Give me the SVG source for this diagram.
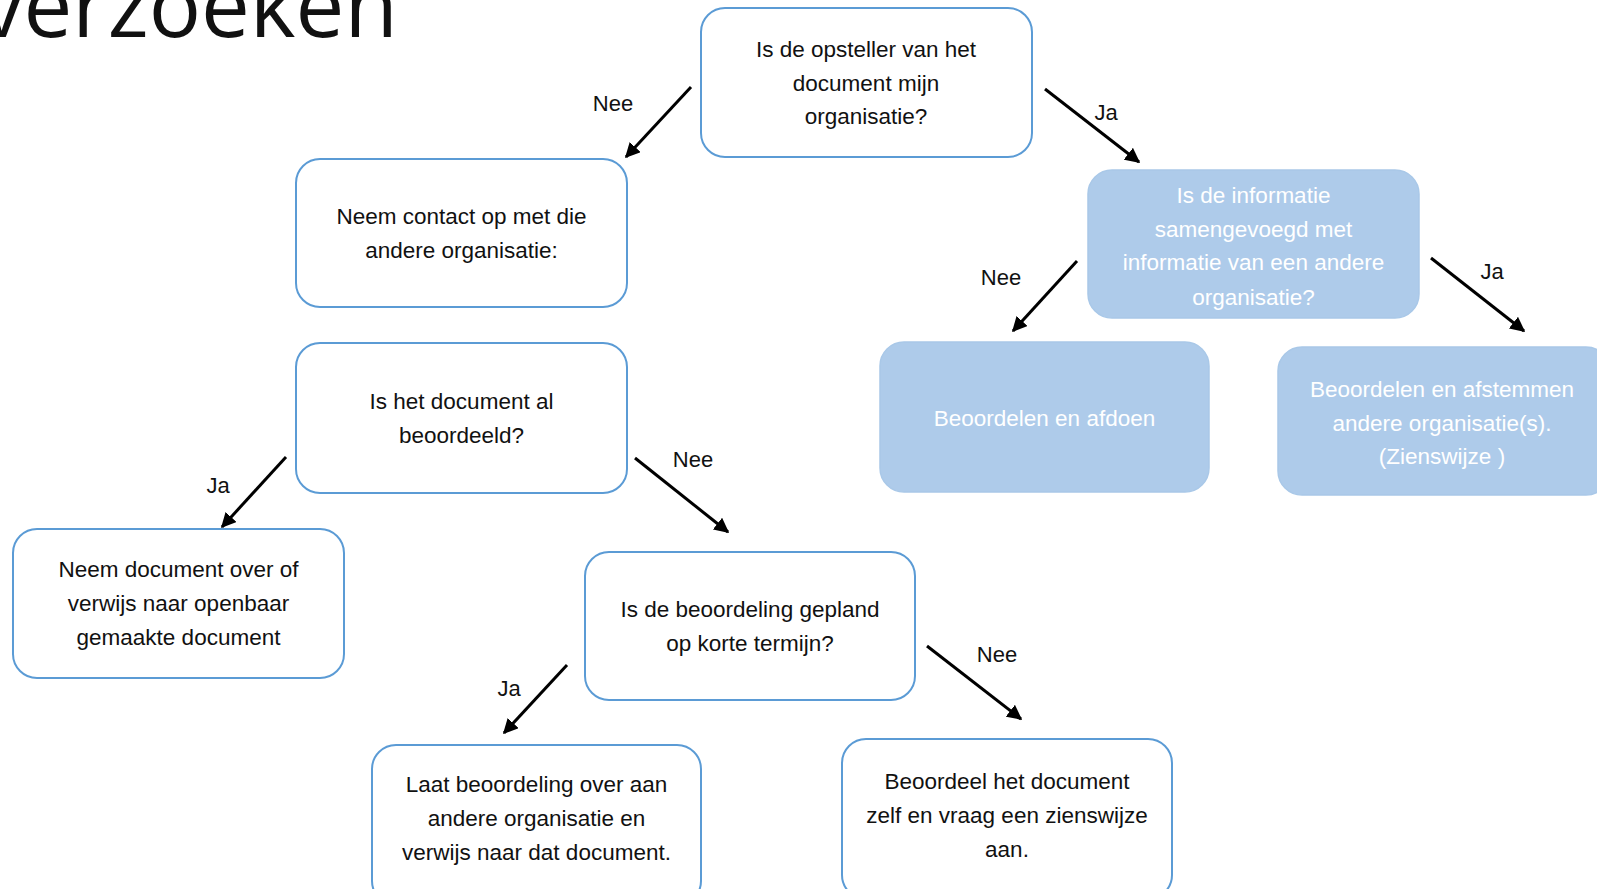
<svg xmlns="http://www.w3.org/2000/svg" width="1597" height="889" viewBox="0 0 1597 889">
<defs>
<style>
.box{fill:#ffffff;stroke:#5b9bd5;stroke-width:2}
.bbox{fill:#aecbea;stroke:#a9c8e8;stroke-width:1.5}
.t{font-family:"Liberation Sans",Arial,sans-serif;font-size:22.5px;fill:#111111;text-anchor:middle}
.w{fill:#ffffff}
.lbl{font-family:"Liberation Sans",Arial,sans-serif;font-size:22px;fill:#111111;text-anchor:middle}
.title{font-family:"Open Sans","Liberation Sans",sans-serif;font-weight:400;font-size:87px;fill:#111111}
.arr{stroke:#000000;stroke-width:3;fill:none;marker-end:url(#ah)}
</style>
<marker id="ah" viewBox="0 0 10 10" refX="9" refY="5" markerWidth="5" markerHeight="5" orient="auto" markerUnits="strokeWidth">
<path d="M0,0 L10,5 L0,10 z" fill="#000000"/>
</marker>
</defs>
<rect width="1597" height="889" fill="#ffffff"/>
<text class="title" x="-20" y="37">verzoeken</text>

<g id="n1">
<rect class="box" x="701" y="8" width="331" height="149" rx="24"/>
<text class="t" x="866" y="57">Is de opsteller van het</text>
<text class="t" x="866" y="90.5">document  mijn</text>
<text class="t" x="866" y="124">organisatie?</text>
</g>
<g id="n2">
<rect class="box" x="296" y="159" width="331" height="148" rx="24"/>
<text class="t" x="461.5" y="224">Neem contact op met die</text>
<text class="t" x="461.5" y="258">andere organisatie:</text>
</g>
<g id="n3">
<rect class="box" x="296" y="343" width="331" height="150" rx="24"/>
<text class="t" x="461.5" y="409">Is het document  al</text>
<text class="t" x="461.5" y="443">beoordeeld?</text>
</g>
<g id="n4">
<rect class="box" x="13" y="529" width="331" height="149" rx="24"/>
<text class="t" x="178.5" y="577">Neem document  over of</text>
<text class="t" x="178.5" y="611">verwijs naar openbaar</text>
<text class="t" x="178.5" y="645">gemaakte document</text>
</g>
<g id="n5">
<rect class="box" x="585" y="552" width="330" height="148" rx="24"/>
<text class="t" x="750" y="617">Is de beoordeling  gepland</text>
<text class="t" x="750" y="651">op korte  termijn?</text>
</g>
<g id="n6">
<rect class="box" x="372" y="745" width="329" height="160" rx="24"/>
<text class="t" x="536.5" y="792">Laat beoordeling  over aan</text>
<text class="t" x="536.5" y="826">andere organisatie en</text>
<text class="t" x="536.5" y="860">verwijs  naar dat document.</text>
</g>
<g id="n7">
<rect class="box" x="842" y="739" width="330" height="160" rx="24"/>
<text class="t" x="1007" y="789">Beoordeel  het document</text>
<text class="t" x="1007" y="823">zelf en vraag een zienswijze</text>
<text class="t" x="1007" y="857">aan.</text>
</g>
<g id="n8">
<rect class="bbox" x="1088" y="170" width="331" height="148" rx="24"/>
<text class="t w" x="1253.5" y="203">Is de informatie</text>
<text class="t w" x="1253.5" y="236.5">samengevoegd met</text>
<text class="t w" x="1253.5" y="270">informatie van een andere</text>
<text class="t w" x="1253.5" y="305">organisatie?</text>
</g>
<g id="n9">
<rect class="bbox" x="880" y="342" width="329" height="150" rx="24"/>
<text class="t w" x="1044.5" y="426">Beoordelen en afdoen</text>
</g>
<g id="n10">
<rect class="bbox" x="1278" y="347" width="332" height="148" rx="24"/>
<text class="t w" x="1442" y="397">Beoordelen en afstemmen</text>
<text class="t w" x="1442" y="431">andere organisatie(s).</text>
<text class="t w" x="1442" y="464">(Zienswijze )</text>
</g>

<g id="connectors">
<line class="arr" x1="691" y1="87" x2="626" y2="157"/>
<text class="lbl" x="613" y="111">Nee</text>
<line class="arr" x1="1045" y1="89" x2="1139" y2="162"/>
<text class="lbl" x="1106" y="120">Ja</text>
<line class="arr" x1="1077" y1="261" x2="1013" y2="331"/>
<text class="lbl" x="1001" y="285">Nee</text>
<line class="arr" x1="1431" y1="258" x2="1524" y2="331"/>
<text class="lbl" x="1492" y="279">Ja</text>
<line class="arr" x1="286" y1="457" x2="222" y2="527"/>
<text class="lbl" x="218" y="493">Ja</text>
<line class="arr" x1="635" y1="458" x2="728" y2="532"/>
<text class="lbl" x="693" y="467">Nee</text>
<line class="arr" x1="567" y1="665" x2="504" y2="733"/>
<text class="lbl" x="509" y="696">Ja</text>
<line class="arr" x1="927" y1="646" x2="1021" y2="719"/>
<text class="lbl" x="997" y="662">Nee</text>
</g>
</svg>
